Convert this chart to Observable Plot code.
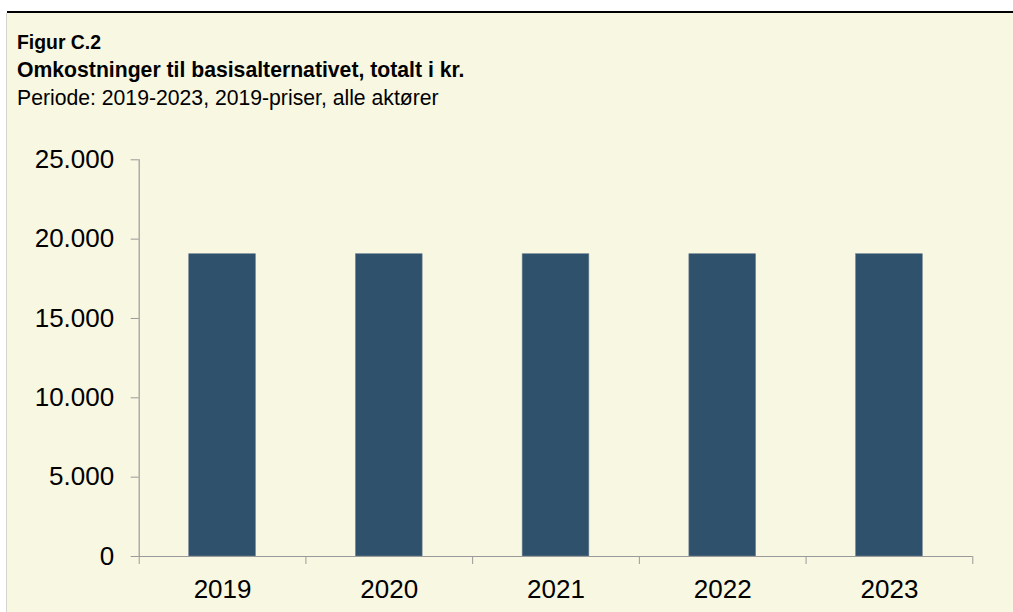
<!DOCTYPE html>
<html>
<head>
<meta charset="utf-8">
<script src="https://cdn.jsdelivr.net/npm/d3@7"></script>
<script src="https://cdn.jsdelivr.net/npm/@observablehq/plot@0.6"></script>
<style>
  html, body { margin: 0; padding: 0; background: #ffffff; width: 1013px; height: 612px; overflow: hidden; }
  .abs { position: absolute; }
  #topline { left: 7px; top: 11px; width: 1006px; height: 2px; background: #000; }
  #leftline { left: 6px; top: 13px; width: 1px; height: 599px; background: #d6d6d0; }
  #panel { left: 7px; top: 13px; width: 1006px; height: 599px; background: #f8f7e1; }
  .t { left: 17px; font-family: "Liberation Sans", Arial, sans-serif; font-size: 21.2px; line-height: 28px; color: #000; white-space: nowrap; }
  #t1 { top: 28px; font-weight: bold; font-size: 19.4px; }
  #t2 { top: 56px; font-weight: bold; }
  #t3 { top: 84px; }
  #chart { left: 7px; top: 120px; }
</style>
</head>
<body>
<div id="topline" class="abs"></div>
<div id="leftline" class="abs"></div>
<div id="panel" class="abs"></div>
<div id="t1" class="abs t">Figur C.2</div>
<div id="t2" class="abs t">Omkostninger til basisalternativet, totalt i kr.</div>
<div id="t3" class="abs t">Periode: 2019-2023, 2019-priser, alle aktører</div>
<div id="chart" class="abs"></div>
<script>
const years = ["2019", "2020", "2021", "2022", "2023"];
const values = [19050, 19050, 19050, 19050, 19050];
const yTicks = [0, 5000, 10000, 15000, 20000, 25000];

const data = years.map((year, i) => ({year, value: values[i], i}));
const fmt = d3.formatLocale({decimal: ",", thousands: ".", grouping: [3], currency: ["", " kr."]}).format(",d");

const chart = Plot.plot({
  width: 1006,
  height: 492,
  marginTop: 39.3,
  marginBottom: 56,
  marginLeft: 131.7,
  marginRight: 40.7,
  style: {background: "transparent", fontFamily: "'Liberation Sans', Arial, sans-serif", fontSize: "26px", color: "#000", overflow: "visible"},
  x: {type: "linear", domain: [0, years.length]},
  y: {domain: [0, 25000]},
  marks: [
    Plot.rectY(data, {x1: d => d.i + 0.3, x2: d => d.i + 0.7, y1: 0, y2: "value", fill: "#2f516c", stroke: "#6f8295", strokeWidth: 0.6}),
    Plot.ruleX([0], {stroke: "#9a9a9a", strokeWidth: 1.2}),
    Plot.ruleY([0], {stroke: "#9a9a9a", strokeWidth: 1.2}),
    Plot.axisY({ticks: yTicks, tickSize: 8, tickPadding: 17, tickFormat: fmt, stroke: "#9a9a9a", fill: "#000", label: null, fontSize: 26}),
    Plot.axisX({ticks: d3.range(years.length + 1), tickSize: 8, tickFormat: () => "", stroke: "#9a9a9a", label: null}),
    Plot.axisX({ticks: years.map((_, i) => i + 0.5), tickSize: 0, tickPadding: 23, tickFormat: t => years[Math.floor(t)], fill: "#000", label: null, fontSize: 26})
  ]
});
document.getElementById("chart").appendChild(chart);
</script>
</body>
</html>
